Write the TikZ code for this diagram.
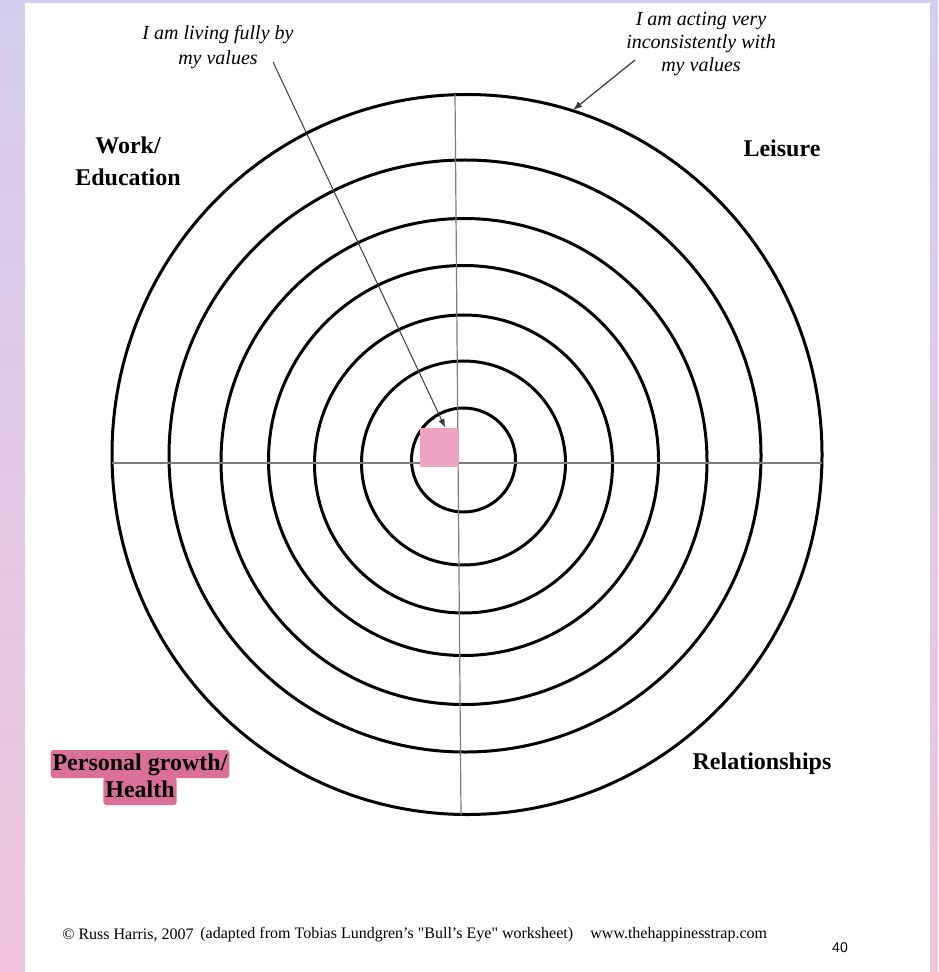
\documentclass[tikz,border=0pt]{standalone}
\usepackage{fontspec}
\setmainfont{Liberation Serif}
\newfontfamily\pagenofont{Liberation Sans}
\usepackage{tikz}
\tikzset{>=latex}
\usetikzlibrary{calc,arrows,positioning}
\definecolor{lavbg}{RGB}{212,206,238}
\definecolor{pinkbg}{RGB}{240,196,220}
\definecolor{bullpink}{RGB}{236,164,192}
\definecolor{hlpink}{RGB}{218,112,152}
\definecolor{axisgray}{RGB}{125,125,125}
\definecolor{leadgray}{RGB}{60,60,60}

\begin{document}
\begin{tikzpicture}[x=0.5pt,y=-0.5pt,
        ring/.style={line width=1.5pt},
        axisline/.style={axisgray,line width=0.6pt},
        leader/.style={leadgray,line width=0.5pt},
        area/.style={font=\bfseries\fontsize{12}{16}\selectfont,align=center},
        note/.style={font=\itshape\fontsize{10}{12.5}\selectfont,align=center},
        marked/.style={font=\bfseries\fontsize{12}{14}\selectfont,fill=hlpink,rounded corners=1.5pt,inner sep=1pt,text height=9pt,text depth=3pt},
        foot/.style={font=\fontsize{8}{9}\selectfont,anchor=west,inner sep=0pt}]
                \useasboundingbox (0,0) rectangle (938,972);
                \shade[top color=lavbg,bottom color=pinkbg] (0,0) rectangle (938,972);
                \fill[white] (25,3) rectangle (930,972);
                \draw[ring] (463.5,460) circle (52);
                \draw[ring] (463.5,463) circle (102);
                \draw[ring] (463.5,464) circle (149);
                \draw[ring] (463.5,460.5) circle (195);
                \draw[ring] (464,461.5) circle (243);
                \draw[ring] (465,456) circle (296);
                \draw[ring] (467,454.5) ellipse (355 and 360);
                \draw[axisline] (112,463) -- (822,463);
                \draw[axisline] (455,94) -- (461,815);
                \node[minimum size=19.5pt,inner sep=0pt,fill=bullpink] (bull) at (439.5,447.5) {};
                \node[note] (living) at (218,47) {I am living fully by\\my values};
                \node[note,font=\itshape\fontsize{10}{11.5}\selectfont] (acting) at (701,44) {I am acting very\\inconsistently with\\my values};
                \coordinate (livtail) at (273,62);
                \coordinate (acttail) at (635,60);
                \coordinate (rim) at (573,110);
                \draw[leader,->] (livtail) -- (bull.74);
                \draw[leader,line width=0.6pt,->] (acttail) -- (rim);
                \node[area] (work) at (128,161) {Work/\\Education};
                \node[area] (leisure) at (782,148) {Leisure};
                \node[area] (relations) at (762,764) {Relationships};
                \node[marked] (growth) at (140,764) {Personal growth/};
                \node[marked] (health) at (140,791) {Health};
                \node[foot] (copy) at (62,935) {© Russ Harris, 2007};
                \node[foot] (adapted) at (200,935) {(adapted from Tobias Lundgren's \textquotedbl Bull's Eye\textquotedbl{} worksheet)};
                \node[foot] (web) at (590,935) {www.thehappinesstrap.com};
                \node[font=\pagenofont\fontsize{7}{8}\selectfont] (pageno) at (840,948) {40};
            \end{tikzpicture}
\end{document}
